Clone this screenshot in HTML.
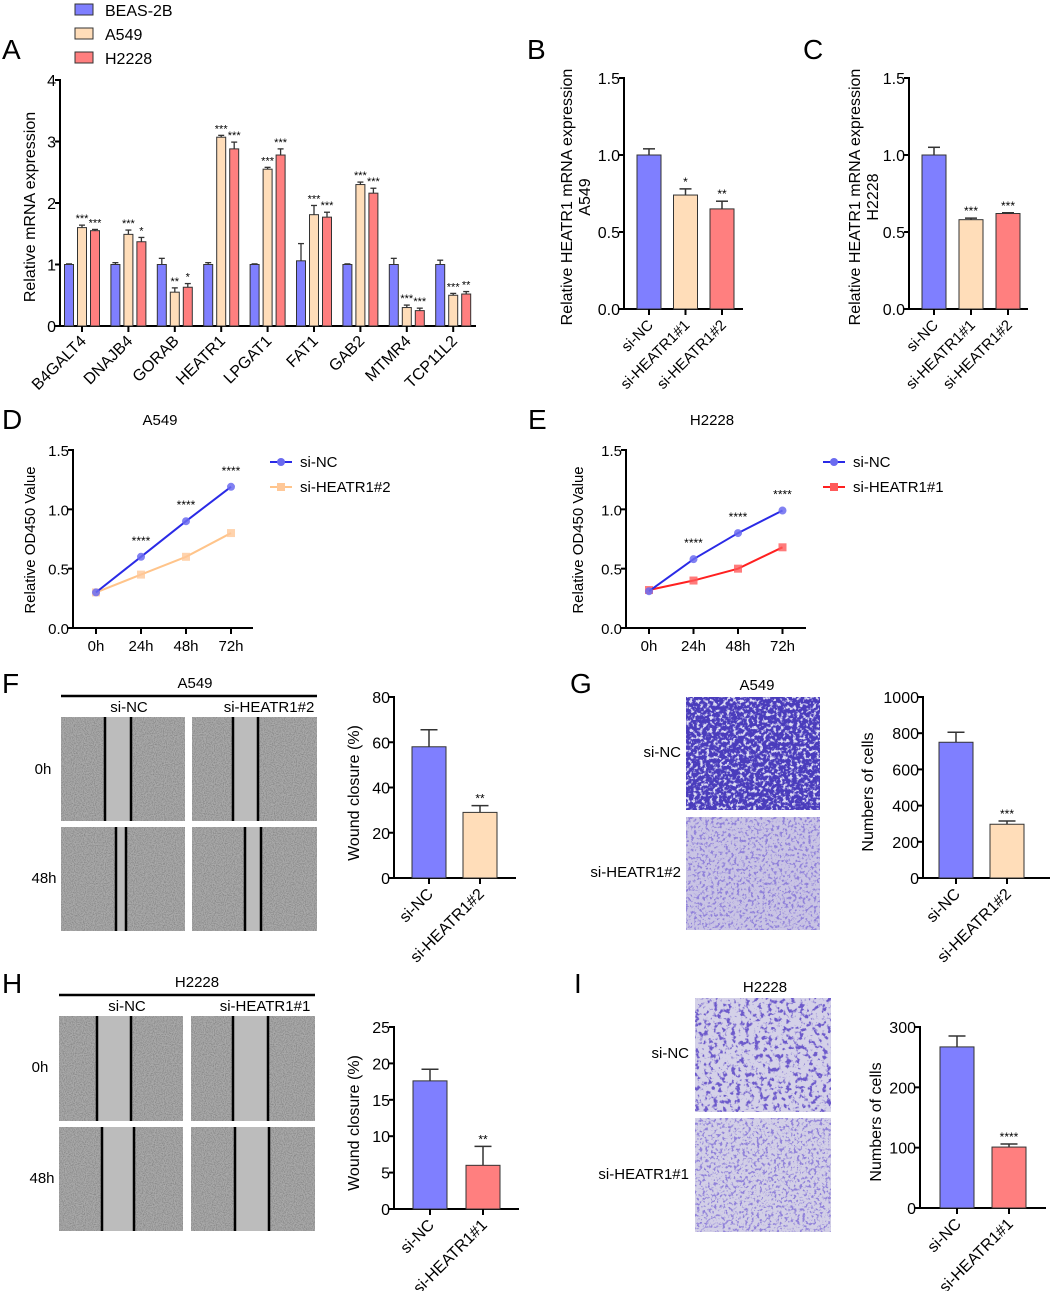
<!DOCTYPE html>
<html><head><meta charset="utf-8"><style>
html,body{margin:0;padding:0;background:#fff;}
svg{display:block;font-family:"Liberation Sans",Arial,sans-serif;}
</style></head><body>
<svg id="fig" xmlns="http://www.w3.org/2000/svg" width="1052" height="1291" viewBox="0 0 1052 1291">
<defs>
<filter id="grayNoise" x="0" y="0" width="100%" height="100%">
<feTurbulence type="fractalNoise" baseFrequency="0.9" numOctaves="2" seed="3" result="t"/>
<feColorMatrix in="t" type="matrix" values="0 0 0 0 0.25 0 0 0 0 0.25 0 0 0 0 0.25 3 0 0 0 -1.2"/>
</filter>
<filter id="blueDense" x="0" y="0" width="100%" height="100%">
<feTurbulence type="fractalNoise" baseFrequency="0.3" numOctaves="3" seed="5" result="t"/>
<feColorMatrix in="t" type="matrix" values="0 0 0 0 0.72 0 0 0 0 0.72 0 0 0 0 0.9 6 0 0 0 -3.1"/>
</filter>
<filter id="blueSparse" x="0" y="0" width="100%" height="100%">
<feTurbulence type="fractalNoise" baseFrequency="0.35" numOctaves="3" seed="9" result="t"/>
<feColorMatrix in="t" type="matrix" values="0 0 0 0 0.28 0 0 0 0 0.22 0 0 0 0 0.7 7 0 0 0 -3.7"/>
</filter>
<filter id="blueSparse2" x="0" y="0" width="100%" height="100%">
<feTurbulence type="fractalNoise" baseFrequency="0.22" numOctaves="3" seed="13" result="t"/>
<feColorMatrix in="t" type="matrix" values="0 0 0 0 0.15 0 0 0 0 0.1 0 0 0 0 0.6 7 0 0 0 -3.7"/>
</filter>
</defs>
</svg>
<script>
// ---------- DATA ----------
const aGenes = ["B4GALT4","DNAJB4","GORAB","HEATR1","LPGAT1","FAT1","GAB2","MTMR4","TCP11L2"];
const aLegend = ["BEAS-2B","A549","H2228"];
const aBeas = [1.0,1.0,1.0,1.0,1.0,1.06,1.0,1.0,1.0];
const aBeasErr = [0.01,0.03,0.10,0.03,0.01,0.28,0.01,0.10,0.07];
const aA549 = [1.60,1.49,0.55,3.07,2.55,1.81,2.30,0.30,0.50];
const aA549Err = [0.04,0.07,0.07,0.03,0.03,0.15,0.04,0.04,0.03];
const aH2228 = [1.55,1.37,0.63,2.88,2.78,1.77,2.16,0.25,0.52];
const aH2228Err = [0.02,0.07,0.06,0.11,0.10,0.08,0.08,0.04,0.04];
const aStarsA549 = ["***","***","**","***","***","***","***","***","***"];
const aStarsH2228 = ["***","*","*","***","***","***","***","***","**"];
const aTicks = [0,1,2,3,4];

const bCats = ["si-NC","si-HEATR1#1","si-HEATR1#2"];
const bVals = [1.0,0.74,0.65];
const bErr = [0.04,0.04,0.05];
const bStars = ["","*","**"];
const cVals = [1.0,0.58,0.62];
const cErr = [0.05,0.01,0.005];
const cStars = ["","***","***"];
const bcTicks = [0.0,0.5,1.0,1.5];

const dTime = ["0h","24h","48h","72h"];
const dNC = [0.30,0.60,0.90,1.19];
const dKD = [0.30,0.45,0.60,0.80];
const eNC = [0.31,0.58,0.80,0.99];
const eKD = [0.32,0.40,0.50,0.68];
const deStars = ["","****","****","****"];
const deTicks = [0.0,0.5,1.0,1.5];

const fCats = ["si-NC","si-HEATR1#2"];
const fVals = [58,29];
const fErr = [7.5,3];
const fStars = ["","**"];
const fTicks = [0,20,40,60,80];
const gVals = [750,297];
const gErr = [55,18];
const gStars = ["","***"];
const gTicks = [0,200,400,600,800,1000];
const hCats = ["si-NC","si-HEATR1#1"];
const hVals = [17.6,6.0];
const hErr = [1.6,2.6];
const hStars = ["","**"];
const hTicks = [0,5,10,15,20,25];
const iVals = [267,101];
const iErr = [18,5];
const iStars = ["","****"];
const iTicks = [0,100,200,300];

// ---------- HELPERS ----------
const NS = "http://www.w3.org/2000/svg";
const svg = document.getElementById('fig');
function mk(tag, attrs, parent){
  const e = document.createElementNS(NS, tag);
  for (const k in attrs) e.setAttribute(k, attrs[k]);
  (parent || svg).appendChild(e);
  return e;
}
function txt(s, x, y, size, anchor, parent, extra){
  const a = {x:x, y:y, 'font-size':size, 'text-anchor':anchor||'start', fill:'#000'};
  if (extra) for (const k in extra) a[k]=extra[k];
  const t = mk('text', a, parent);
  t.textContent = s;
  return t;
}
const BLUE="#7f7fff", PEACH="#ffddb9", RED="#ff7f7f", EDGE="#333";

function panelLetter(s,x,y){
  const t = txt(s,x,y,28,'start');
  
  
}

function yAxis(g, x0, yZero, yTop, tickVals, maxV, fmt, fs){
  const sc = v => yZero - (v/maxV)*(yZero-yTop);
  const ax = mk('line',{x1:x0,y1:yTop-1,x2:x0,y2:yZero+1,stroke:'#000','stroke-width':2},g);
  
  
  tickVals.forEach(v=>{
    const tk = mk('line',{x1:x0-5,y1:sc(v),x2:x0,y2:sc(v),stroke:'#000','stroke-width':2},g);
    
    
    const tl = txt(fmt(v), x0-4, sc(v)+6, fs||16, 'end', g);
    
    
  });
  return sc;
}

function barChart(o){
  const g = mk('g',{});
  
  
  const sc = yAxis(g, o.x0, o.yZero, o.yTop, o.ticks, o.maxV, o.fmt, o.fs);
  const xa = mk('line',{x1:o.x0-1,y1:o.yZero,x2:o.xEnd,y2:o.yZero,stroke:'#000','stroke-width':2},g);
  
  
  o.vals.forEach((v,i)=>{
    const cx = o.x0 + o.off + i*o.sp;
    const top = sc(v), et = sc(v+o.err[i]);
    const eb = mk('line',{x1:cx,y1:top,x2:cx,y2:et,stroke:EDGE,'stroke-width':1.5},g);
    
    
    const ec = mk('line',{x1:cx-o.w/4,y1:et,x2:cx+o.w/4,y2:et,stroke:EDGE,'stroke-width':1.5},g);
    
    
    const r = mk('rect',{x:cx-o.w/2,y:top,width:o.w,height:o.yZero-top,fill:o.colors[i],stroke:EDGE,'stroke-width':1},g);
    
    
    const tk = mk('line',{x1:cx,y1:o.yZero,x2:cx,y2:o.yZero+6,stroke:'#000','stroke-width':2},g);
    
    
    if (o.stars[i]){
      const s = txt(o.stars[i], cx, et-3, 12, 'middle', g);
      
      
    }
    const lx = cx+5, ly = o.yZero+17;
    const l = txt(o.cats[i], lx, ly, o.lfs||16, 'end', g, {transform:'rotate(-45 '+lx+' '+ly+')'});
    
    
  });
  const tl = mk('text',{x:0,y:0,'font-size':o.tfs||16,'text-anchor':'middle',fill:'#000',transform:'translate('+o.tx+' '+o.ty+') rotate(-90)'},g);
  o.title.forEach((line,k)=>{
    const ts = mk('tspan',{x:0,dy:k===0?0:18},tl);
    ts.textContent = line;
  });
  
  
}

// ---------- PANEL A ----------
panelLetter('A',2,59);
(function(){
  const cols=[BLUE,PEACH,RED];
  aLegend.forEach((s,i)=>{
    const r = mk('rect',{x:75,y:4+i*24,width:18,height:11,fill:cols[i],stroke:EDGE,'stroke-width':1});
    
    
    const t = txt(s,105,16+i*24,16,'start');
    
    
  });
  const g = mk('g',{});
  
  
  const x0=60,yZ=326,yT=80;
  const sc = yAxis(g,x0,yZ,yT,aTicks,4,v=>String(v),16);
  const xa = mk('line',{x1:x0-1,y1:yZ,x2:476,y2:yZ,stroke:'#000','stroke-width':2},g);
  
  
  const series=[[aBeas,aBeasErr,null],[aA549,aA549Err,aStarsA549],[aH2228,aH2228Err,aStarsH2228]];
  aGenes.forEach((gn,i)=>{
    const gc = 82 + i*46.4;
    series.forEach((s,j)=>{
      const cx = gc + (j-1)*13, v=s[0][i], top=sc(v), et=sc(v+s[1][i]);
      const eb = mk('line',{x1:cx,y1:top,x2:cx,y2:et,stroke:EDGE,'stroke-width':1.3},g);
      
      
      const ec = mk('line',{x1:cx-3,y1:et,x2:cx+3,y2:et,stroke:EDGE,'stroke-width':1.3},g);
      
      
      const r = mk('rect',{x:cx-4.5,y:top,width:9,height:yZ-top,fill:cols[j],stroke:EDGE,'stroke-width':1},g);
      
      
      if (s[2]){
        const st = txt(s[2][i], cx, et-3, 11, 'middle', g);
        
        
      }
    });
    const tk = mk('line',{x1:gc,y1:yZ,x2:gc,y2:yZ+6,stroke:'#000','stroke-width':2},g);
    
    
    const lx=gc+5, ly=yZ+16;
    const l = txt(gn,lx,ly,16,'end',g,{transform:'rotate(-45 '+lx+' '+ly+')'});
    
    
  });
  const tl = txt('Relative mRNA expression',0,0,16,'middle',g,{transform:'translate(35 207) rotate(-90)'});
  
  
})();

// ---------- PANELS B, C ----------
panelLetter('B',527,59);
panelLetter('C',803,59);
const f1 = v=>v.toFixed(1);
barChart({name:'chart-b',x0:624,yZero:309,yTop:78,xEnd:743,ticks:bcTicks,maxV:1.5,fmt:f1,fs:16,
  vals:bVals,err:bErr,stars:bStars,cats:bCats,colors:[BLUE,PEACH,RED],off:25,sp:36.5,w:24,
  title:['Relative HEATR1 mRNA expression','A549'],tx:572,ty:197,lfs:15});
barChart({name:'chart-c',x0:909,yZero:309,yTop:78,xEnd:1028,ticks:bcTicks,maxV:1.5,fmt:f1,fs:16,
  vals:cVals,err:cErr,stars:cStars,cats:bCats,colors:[BLUE,PEACH,RED],off:25,sp:37,w:24,
  title:['Relative HEATR1 mRNA expression','H2228'],tx:860,ty:197,lfs:15});

// ---------- PANELS D, E ----------
function lineChart(o){
  const g = mk('g',{});
  
  
  const sc = yAxis(g,o.x0,o.yZero,o.yTop,deTicks,1.5,f1,15);
  const xa = mk('line',{x1:o.x0-1,y1:o.yZero,x2:o.xEnd,y2:o.yZero,stroke:'#000','stroke-width':2},g);
  
  
  const xs = i => o.xFirst + i*o.sp;
  dTime.forEach((t,i)=>{
    const tk = mk('line',{x1:xs(i),y1:o.yZero,x2:xs(i),y2:o.yZero+6,stroke:'#000','stroke-width':2},g);
    
    
    const l = txt(t,xs(i),o.yZero+23,15,'middle',g);
    
    
  });
  const pk = mk('polyline',{points:o.kd.map((v,i)=>xs(i)+','+sc(v)).join(' '),fill:'none',stroke:o.kdLine,'stroke-width':2},g);
  
  
  o.kd.forEach((v,i)=>{
    const m = mk('rect',{x:xs(i)-4,y:sc(v)-4,width:8,height:8,fill:o.kdMark,opacity:0.8},g);
    
    
  });
  const pn = mk('polyline',{points:o.nc.map((v,i)=>xs(i)+','+sc(v)).join(' '),fill:'none',stroke:'#2a2ae6','stroke-width':2},g);
  
  
  o.nc.forEach((v,i)=>{
    const m = mk('circle',{cx:xs(i),cy:sc(v),r:4,fill:'#6b6bf0',opacity:0.85},g);
    
    
    if (deStars[i]){
      const s = txt(deStars[i],xs(i),sc(v)-12,12,'middle',g);
      
      
    }
  });
  const tt = txt(o.title,o.tX,425,15,'middle',g);
  
  
  const yt = txt('Relative OD450 Value',0,0,15,'middle',g,{transform:'translate('+o.ytx+' 540) rotate(-90)'});
  
  
  const l1 = mk('line',{x1:o.lgx,y1:462,x2:o.lgx+22,y2:462,stroke:'#2a2ae6','stroke-width':2},g);
  
  
  const c1 = mk('circle',{cx:o.lgx+11,cy:462,r:4,fill:'#6b6bf0'},g);
  
  
  const t1 = txt('si-NC',o.lgx+30,467,15,'start',g);
  
  
  const l2 = mk('line',{x1:o.lgx,y1:487,x2:o.lgx+22,y2:487,stroke:o.kdLine,'stroke-width':2},g);
  
  
  const c2 = mk('rect',{x:o.lgx+7,y:483,width:8,height:8,fill:o.kdMark},g);
  
  
  const t2 = txt(o.kdName,o.lgx+30,492,15,'start',g);
  
  
}
panelLetter('D',2,429);
panelLetter('E',528,429);
lineChart({name:'chart-d',x0:73,yZero:628,yTop:450,xEnd:253,xFirst:96,sp:45,nc:dNC,kd:dKD,kdLine:'#ffc48a',kdMark:'#ffc898',kdName:'si-HEATR1#2',title:'A549',tX:160,ytx:35,lgx:270});
lineChart({name:'chart-e',x0:626,yZero:628,yTop:450,xEnd:806,xFirst:649,sp:44.5,nc:eNC,kd:eKD,kdLine:'#ff2020',kdMark:'#ff5a5a',kdName:'si-HEATR1#1',title:'H2228',tX:712,ytx:583,lgx:823});

// ---------- MICROGRAPHS ----------
function wound(x,y,w,h,l1,l2,name){
  const g = mk('g',{});
  
  
  const b = mk('rect',{x:x,y:y,width:w,height:h,fill:'#a9a9a9'},g);
  
  
  const n = mk('rect',{x:x,y:y,width:w,height:h,filter:'url(#grayNoise)'},g);
  
  
  const gap = mk('rect',{x:x+l1,y:y,width:l2-l1,height:h,fill:'#bcbcbc'},g);
  
  
  [l1,l2].forEach(lx=>{
    const ln = mk('line',{x1:x+lx,y1:y,x2:x+lx,y2:y+h,stroke:'#000','stroke-width':2.5},g);
    
    
  });
}
function transwell(x,y,w,h,base,filt,name){
  const g = mk('g',{});
  
  
  const b = mk('rect',{x:x,y:y,width:w,height:h,fill:base},g);
  
  
  const n = mk('rect',{x:x,y:y,width:w,height:h,filter:'url(#'+filt+')'},g);
  
  
}
function headerBlock(title,cx,x1,x2,ly,c1,c2,sub,name){
  const t = txt(title,cx,ly-8,15,'middle');
  
  
  const l = mk('line',{x1:x1,y1:ly,x2:x2,y2:ly,stroke:'#000','stroke-width':2.5});
  
  
  const a = txt(sub[0],c1,ly+16,15,'middle');
  
  
  const b = txt(sub[1],c2,ly+16,15,'middle');
  
  
}
function rowLabel(s,x,y,anchor){
  const t = txt(s,x,y,15,anchor||'middle');
  
  
}

// F
panelLetter('F',2,693);
headerBlock('A549',195,61,317,696,129,269,['si-NC','si-HEATR1#2'],'panel-f');
wound(61,717,124,104,44,70,'wound-image-a549-si-nc-0h');
wound(192,717,125,104,41,66,'wound-image-a549-kd-0h');
wound(61,827,124,104,55,65,'wound-image-a549-si-nc-48h');
wound(192,827,125,104,53,69,'wound-image-a549-kd-48h');
rowLabel('0h',43,774); rowLabel('48h',44,883);
barChart({name:'chart-f',x0:394,yZero:878,yTop:697,xEnd:516,ticks:fTicks,maxV:80,fmt:v=>String(v),fs:16,
  vals:fVals,err:fErr,stars:fStars,cats:fCats,colors:[BLUE,PEACH],off:35,sp:51,w:34,
  title:['Wound closure (%)'],tx:359,ty:793,lfs:16});

// G
panelLetter('G',570,693);
const gt = txt('A549',757,690,15,'middle');


transwell(686,697,134,113,'#4a3cbc','blueDense','transwell-image-a549-si-nc');
transwell(686,817,134,113,'#c9c4e4','blueSparse','transwell-image-a549-kd');
rowLabel('si-NC',681,757,'end'); rowLabel('si-HEATR1#2',681,877,'end');
barChart({name:'chart-g',x0:923,yZero:878,yTop:697,xEnd:1050,ticks:gTicks,maxV:1000,fmt:v=>String(v),fs:16,
  vals:gVals,err:gErr,stars:gStars,cats:fCats,colors:[BLUE,PEACH],off:33,sp:51,w:34,
  title:['Numbers of cells'],tx:873,ty:792,lfs:16});

// H
panelLetter('H',2,993);
headerBlock('H2228',197,59,315,995,127,265,['si-NC','si-HEATR1#1'],'panel-h');
wound(59,1016,124,105,38,72,'wound-image-h2228-si-nc-0h');
wound(191,1016,124,105,42,77,'wound-image-h2228-kd-0h');
wound(59,1127,124,104,43,75,'wound-image-h2228-si-nc-48h');
wound(191,1127,124,104,44,78,'wound-image-h2228-kd-48h');
rowLabel('0h',40,1072); rowLabel('48h',42,1183);
barChart({name:'chart-h',x0:394,yZero:1209,yTop:1027,xEnd:519,ticks:hTicks,maxV:25,fmt:v=>String(v),fs:16,
  vals:hVals,err:hErr,stars:hStars,cats:hCats,colors:[BLUE,RED],off:36,sp:53,w:34,
  title:['Wound closure (%)'],tx:359,ty:1123,lfs:16});

// I
panelLetter('I',574,993);
const it = txt('H2228',765,992,15,'middle');


transwell(695,998,136,114,'#d4d1e8','blueSparse2','transwell-image-h2228-si-nc');
transwell(695,1118,136,114,'#d2cfe6','blueSparse','transwell-image-h2228-kd');
rowLabel('si-NC',689,1058,'end'); rowLabel('si-HEATR1#1',689,1179,'end');
barChart({name:'chart-i',x0:920,yZero:1208,yTop:1027,xEnd:1046,ticks:iTicks,maxV:300,fmt:v=>String(v),fs:16,
  vals:iVals,err:iErr,stars:iStars,cats:hCats,colors:[BLUE,RED],off:37,sp:52,w:34,
  title:['Numbers of cells'],tx:881,ty:1122,lfs:16});
</script>
</body></html>
